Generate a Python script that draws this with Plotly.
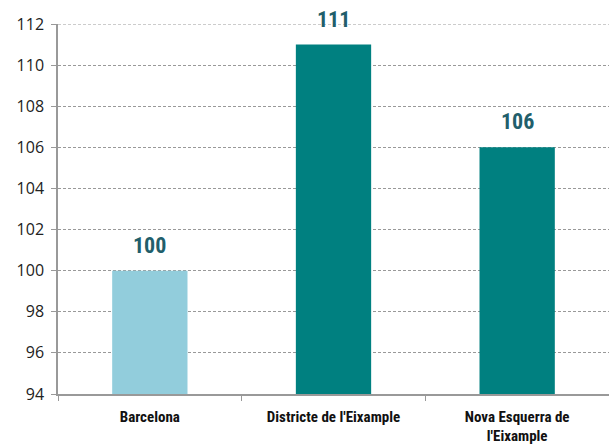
import plotly.graph_objects as go

categories = ["Barcelona", "Districte de l'Eixample", "Nova Esquerra de<br>l'Eixample"]
values = [100, 111, 106]
colors = ["#92CDDC", "#008080", "#008080"]
y_ticks = [94, 96, 98, 100, 102, 104, 106, 108, 110, 112]
y_base = 94
y_top = 112

FONT = "Liberation Sans Narrow, Roboto Condensed, Roboto, Arial"

fig = go.Figure(go.Bar(
    x=categories, y=[v - y_base for v in values], base=y_base,
    marker_color=colors, marker_line_width=0,
    cliponaxis=False, hoverinfo="skip",
))
for c, v in zip(categories, values):
    fig.add_annotation(x=c, y=v, text="<b>%d</b>" % v, showarrow=False, yanchor="bottom",
                       yshift=11, font=dict(family=FONT, size=22, color="#215E6B"))
fig.update_layout(
    width=609, height=448, margin=dict(l=58, r=0, t=24, b=54, autoexpand=False),
    plot_bgcolor="white", paper_bgcolor="white", bargap=0.59, showlegend=False,
    font=dict(family=FONT, color="#222222"),
)
fig.add_shape(type="line", xref="paper", yref="y", x0=0, x1=1, y0=y_top, y1=y_top,
              line=dict(color="#999999", width=1, dash="3px,2px"), layer="below")
fig.update_yaxes(range=[y_base, y_top], tickvals=y_ticks, showgrid=True, gridcolor="#999999",
                 griddash="3px,2px", gridwidth=1, showline=True, linecolor="#999999", linewidth=1.5,
                 ticks="outside", ticklen=5, tickcolor="#999999", ticklabelstandoff=4,
                 tickfont=dict(size=16, color="#222222", family="Open Sans, Liberation Sans, Arial"),
                 zeroline=False, automargin=False)
fig.update_xaxes(showline=True, linecolor="#999999", linewidth=1.5, ticks="outside", ticklen=5,
                 tickcolor="#999999", tickson="boundaries", automargin=False, ticklabelstandoff=8,
                 tickfont=dict(size=15, color="#111111", family=FONT),
                 tickvals=categories, ticktext=["<b>" + c + "</b>" for c in categories])
fig.write_html("out.html", post_script="document.body.style.margin='0';",
               config={"displayModeBar": False})
